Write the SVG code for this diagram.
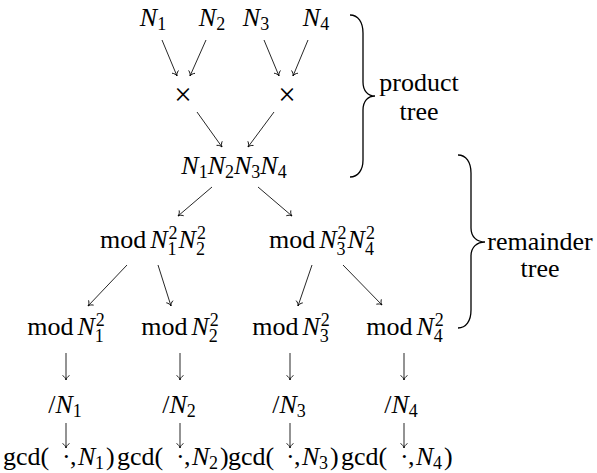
<svg xmlns="http://www.w3.org/2000/svg" width="597" height="473" viewBox="0 0 597 473" font-family="'Liberation Serif', 'Times New Roman', serif">
<defs>
<style>
text{font-family:'Liberation Serif','Times New Roman',serif;font-size:26px;fill:#000;text-anchor:middle}
text.l{text-anchor:start}
text.x{font-size:31px}
.i{font-style:italic}
.s{font-size:18px}
.c line{stroke:#000;stroke-width:0.85;marker-end:url(#ah)}
.br{fill:none;stroke:#000;stroke-width:1.3}
</style>
<marker id="ah" markerUnits="userSpaceOnUse" markerWidth="10" markerHeight="10" viewBox="-6 -5 8 10" refX="0" refY="0" orient="auto">
<path d="M-4.5,-3.5 C-3.4,-1.4 -1.4,-0.3 0,0 C-1.4,0.3 -3.4,1.4 -4.5,3.5" fill="none" stroke="#000" stroke-width="0.85"/>
</marker>
</defs>

<g id="n1"><text x="153" y="26"><tspan class="i">N</tspan><tspan class="s" dy="4">1</tspan></text></g>
<g id="n2"><text x="212" y="26"><tspan class="i">N</tspan><tspan class="s" dy="4">2</tspan></text></g>
<g id="n3"><text x="256" y="26"><tspan class="i">N</tspan><tspan class="s" dy="4">3</tspan></text></g>
<g id="n4"><text x="316" y="26"><tspan class="i">N</tspan><tspan class="s" dy="4">4</tspan></text></g>

<g id="times12"><text class="x" x="183" y="105">×</text></g>
<g id="times34"><text class="x" x="287" y="105">×</text></g>

<g id="prod"><text x="234" y="174"><tspan class="i">N</tspan><tspan class="s" dy="4">1</tspan><tspan class="i" dy="-4">N</tspan><tspan class="s" dy="4">2</tspan><tspan class="i" dy="-4">N</tspan><tspan class="s" dy="4">3</tspan><tspan class="i" dy="-4">N</tspan><tspan class="s" dy="4">4</tspan></text></g>

<g id="mod12"><text x="153" y="248">mod<tspan class="i" dx="4">N</tspan><tspan class="s" dy="7">1</tspan><tspan class="s" dx="-8" dy="-16">2</tspan><tspan class="i" dx="1" dy="9">N</tspan><tspan class="s" dy="7">2</tspan><tspan class="s" dx="-8" dy="-16">2</tspan></text></g>
<g id="mod34"><text x="322" y="248">mod<tspan class="i" dx="4">N</tspan><tspan class="s" dy="7">3</tspan><tspan class="s" dx="-8" dy="-16">2</tspan><tspan class="i" dx="1" dy="9">N</tspan><tspan class="s" dy="7">4</tspan><tspan class="s" dx="-8" dy="-16">2</tspan></text></g>

<g id="mod1"><text x="66" y="335">mod<tspan class="i" dx="4">N</tspan><tspan class="s" dy="7">1</tspan><tspan class="s" dx="-8" dy="-16">2</tspan></text></g>
<g id="mod2"><text x="180" y="335">mod<tspan class="i" dx="4">N</tspan><tspan class="s" dy="7">2</tspan><tspan class="s" dx="-8" dy="-16">2</tspan></text></g>
<g id="mod3"><text x="291" y="335">mod<tspan class="i" dx="4">N</tspan><tspan class="s" dy="7">3</tspan><tspan class="s" dx="-8" dy="-16">2</tspan></text></g>
<g id="mod4"><text x="405" y="335">mod<tspan class="i" dx="4">N</tspan><tspan class="s" dy="7">4</tspan><tspan class="s" dx="-8" dy="-16">2</tspan></text></g>

<g id="div1"><text x="65" y="413">/<tspan class="i">N</tspan><tspan class="s" dy="4">1</tspan></text></g>
<g id="div2"><text x="179" y="413">/<tspan class="i">N</tspan><tspan class="s" dy="4">2</tspan></text></g>
<g id="div3"><text x="289" y="413">/<tspan class="i">N</tspan><tspan class="s" dy="4">3</tspan></text></g>
<g id="div4"><text x="401" y="413">/<tspan class="i">N</tspan><tspan class="s" dy="4">4</tspan></text></g>

<g id="gcd1"><text class="l" y="465"><tspan x="3">gcd(</tspan><tspan x="62">·</tspan><tspan x="70">,</tspan><tspan class="i" x="78">N</tspan><tspan class="s" x="95" y="469">1</tspan><tspan x="106" y="465">)</tspan></text></g>
<g id="gcd2"><text class="l" y="465"><tspan x="117">gcd(</tspan><tspan x="176">·</tspan><tspan x="184">,</tspan><tspan class="i" x="192">N</tspan><tspan class="s" x="209" y="469">2</tspan><tspan x="220" y="465">)</tspan></text></g>
<g id="gcd3"><text class="l" y="465"><tspan x="228">gcd(</tspan><tspan x="286">·</tspan><tspan x="294">,</tspan><tspan class="i" x="302">N</tspan><tspan class="s" x="319" y="469">3</tspan><tspan x="330" y="465">)</tspan></text></g>
<g id="gcd4"><text class="l" y="465"><tspan x="341">gcd(</tspan><tspan x="400">·</tspan><tspan x="408">,</tspan><tspan class="i" x="416">N</tspan><tspan class="s" x="433" y="469">4</tspan><tspan x="444" y="465">)</tspan></text></g>

<g id="product-brace">
<path class="br" d="M350,15 C358,15 363,22 363,33 L363,82 C363,91 368,96 375,96 C368,96 363,101 363,110 L363,160 C363,170 358,177 350,177"/>
<text x="419" y="91">product</text>
<text x="419" y="120">tree</text>
</g>
<g id="remainder-brace">
<path class="br" d="M458,155 C466,155 471,162 471,173 L471,228 C471,237 477,242 485,242 C477,242 471,247 471,256 L471,310 C471,321 466,328 458,328"/>
<text x="540" y="250">remainder</text>
<text x="540" y="277">tree</text>
</g>

<g id="connectors" class="c">
<line x1="162" y1="40" x2="177" y2="76"/>
<line x1="206" y1="40" x2="190" y2="76"/>
<line x1="264" y1="40" x2="279" y2="76"/>
<line x1="308" y1="40" x2="293" y2="76"/>
<line x1="197" y1="112" x2="222" y2="147"/>
<line x1="274" y1="112" x2="248" y2="147"/>
<line x1="212" y1="187" x2="178" y2="216"/>
<line x1="258" y1="187" x2="292" y2="216"/>
<line x1="127" y1="265" x2="88" y2="306"/>
<line x1="158" y1="265" x2="171" y2="306"/>
<line x1="312" y1="265" x2="298" y2="306"/>
<line x1="343" y1="265" x2="382" y2="305"/>
<line x1="66" y1="353" x2="66" y2="380"/>
<line x1="180" y1="353" x2="180" y2="380"/>
<line x1="290" y1="353" x2="290" y2="380"/>
<line x1="404" y1="353" x2="404" y2="380"/>
<line x1="66" y1="423" x2="66" y2="448"/>
<line x1="180" y1="423" x2="180" y2="448"/>
<line x1="290" y1="423" x2="290" y2="448"/>
<line x1="404" y1="423" x2="404" y2="448"/>
</g>
</svg>
